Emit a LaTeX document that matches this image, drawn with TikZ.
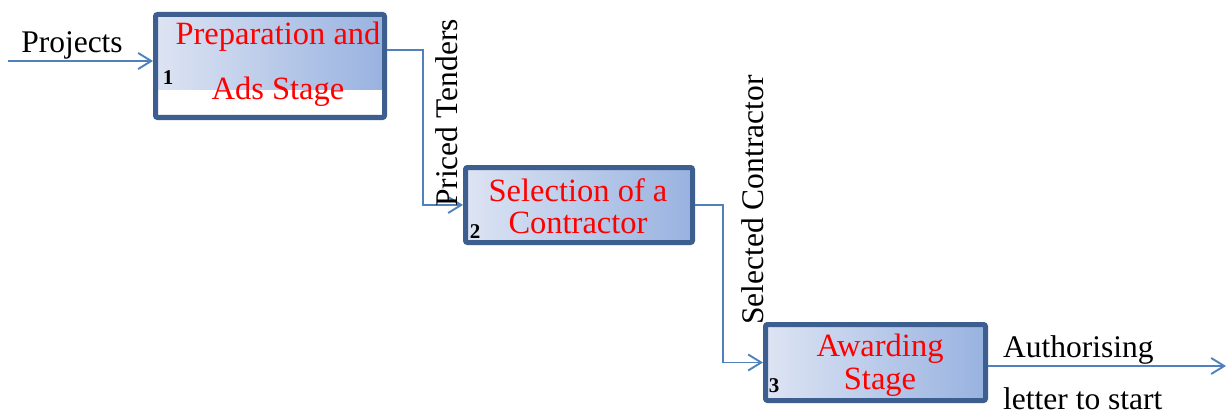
\documentclass[tikz,border=0pt]{standalone}
\usepackage{fontspec}
\setmainfont{Liberation Serif}
\usetikzlibrary{arrows.meta}
\definecolor{boxline}{HTML}{3D5F8F}
\definecolor{shadeL}{HTML}{DDE4F3}
\definecolor{shadeR}{HTML}{98B2E0}
\definecolor{flowblue}{HTML}{4F81BD}
\tikzset{
  stagebox/.style={draw=boxline, line width=5pt, rounded corners=2pt,
    inner sep=0pt, left color=shadeL, right color=shadeR},
  stagetext/.style={text=red, font=\fontsize{32.5}{32.5}\selectfont, inner sep=0pt},
  stagenum/.style={font=\fontsize{21}{21}\selectfont\bfseries, inner sep=0pt},
  flowlabel/.style={font=\fontsize{31.5}{31.5}\selectfont, inner sep=0pt},
  flow/.style={draw=flowblue, line width=1.9pt,
    -{Straight Barb[length=13pt,width=16pt,line width=1.9pt]}},
}
\begin{document}
\begin{tikzpicture}[x=1pt,y=-1pt]
\useasboundingbox (0,0) rectangle (1230,417);

% stage 1: the shading covers only the upper part of the box
\node[draw=boxline, line width=5pt, rounded corners=2pt, fill=white,
      minimum width=229pt, minimum height=103pt,
      path picture={\shade[left color=shadeL, right color=shadeR]
        (path picture bounding box.north west) rectangle
        ([yshift=-24pt]path picture bounding box.east);}] (b1) at (270,66) {};
\node[stagetext] at (278,37) {Preparation and};
\node[stagetext] at (278,92) {Ads Stage};
\node[stagenum] at (168,78) {1};

% stage 2
\node[stagebox, minimum width=227pt, minimum height=75pt] (b2) at (579,205) {};
\node[stagetext] at (578,190) {Selection of a};
\node[stagetext] at (578,223) {Contractor};
\node[stagenum] at (475,232) {2};

% stage 3
\node[stagebox, minimum width=220pt, minimum height=76pt] (b3) at (875.5,362.5) {};
\node[stagetext] at (880,349) {Awarding};
\node[stagetext] at (880,382) {Stage};
\node[stagenum] at (774,386) {3};

% flows
\coordinate (in) at (8,61);
\coordinate (out) at (1226,366);
\draw[flow] (in) -- (in -| b1.west);
\draw[flow] ([yshift=16pt]b1.east) -- ++(36,0) |- (b2.west);
\draw[flow] (b2.east) -- ++(28,0) |- (b3.west);
\draw[flow] ([yshift=-3.5pt]b3.east) -- (out);

% flow labels
\node[flowlabel] (lp) at (72,45) {Projects};
\node[flowlabel, rotate=90] (lt) at (447,113) {Priced Tenders};
\node[flowlabel, rotate=90] (lc) at (753,200) {Selected Contractor};
\node[flowlabel, anchor=west] (la) at (1003,350) {Authorising};
\node[flowlabel, anchor=west] (ll) at (1003,399) {letter to start};
\end{tikzpicture}
\end{document}
